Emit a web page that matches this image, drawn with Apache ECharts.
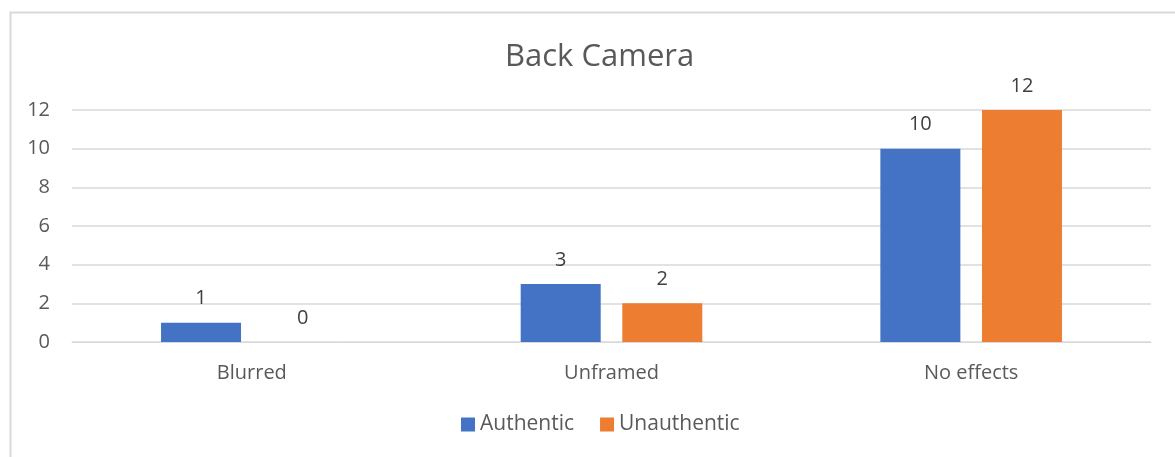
<!DOCTYPE html>
<html>
<head>
<meta charset="utf-8">
<script src="https://cdn.jsdelivr.net/npm/echarts@6/dist/echarts.min.js"></script>
<style>
  html, body { margin: 0; padding: 0; background: #fff; }
  #chart { width: 1175px; height: 457px; }
</style>
</head>
<body>
<div id="chart"></div>
<script>
const categories = ["Blurred", "Unframed", "No effects"];
const authentic = [1, 3, 10];
const unauthentic = [0, 2, 12];
const seriesNames = ["Authentic", "Unauthentic"];

const textColor = "#595959";
const font = "Open Sans";

let myChart = echarts.init(document.getElementById("chart"));
let option = {
  backgroundColor: "#fff",
  textStyle: { fontFamily: font },
  graphic: [
    {
      type: "rect",
      left: 8,
      top: 10,
      shape: { width: 1200, height: 500 },
      style: { fill: "none", stroke: "#d9d9d9", lineWidth: 2 },
      silent: true,
    },
  ],
  title: {
    text: "Back Camera",
    left: 500,
    top: 37,
    textStyle: { color: textColor, fontSize: 31, fontWeight: "normal", fontFamily: font },
  },
  legend: {
    bottom: 17,
    left: 456,
    itemWidth: 14,
    itemHeight: 14,
    itemGap: 26,
    icon: "rect",
    textStyle: { color: textColor, fontSize: 21, fontFamily: font },
    data: seriesNames,
  },
  grid: { left: 72, right: 24, top: 110, bottom: 115 },
  xAxis: {
    type: "category",
    data: categories,
    axisLine: { show: true, lineStyle: { color: "#d9d9d9" } },
    axisTick: { show: false },
    axisLabel: { color: textColor, fontSize: 20, margin: 21, fontFamily: font },
  },
  yAxis: {
    type: "value",
    min: 0,
    max: 12,
    interval: 2,
    axisLine: { show: false },
    axisTick: { show: false },
    axisLabel: { color: textColor, fontSize: 20, margin: 22, fontFamily: font },
    splitLine: { lineStyle: { color: "#d9d9d9", width: 1.5 } },
  },
  series: [
    {
      name: seriesNames[0],
      type: "bar",
      data: authentic,
      barWidth: 80,
      barGap: "27%",
      itemStyle: { color: "#4472C4" },
      label: { show: true, position: "top", distance: 14, color: "#404040", fontSize: 20, fontFamily: font },
    },
    {
      name: seriesNames[1],
      type: "bar",
      data: unauthentic,
      barWidth: 80,
      barGap: "27%",
      itemStyle: { color: "#ED7D31" },
      label: { show: true, position: "top", distance: 14, color: "#404040", fontSize: 20, fontFamily: font },
    },
  ],
};
myChart.setOption(option);
</script>
</body>
</html>
